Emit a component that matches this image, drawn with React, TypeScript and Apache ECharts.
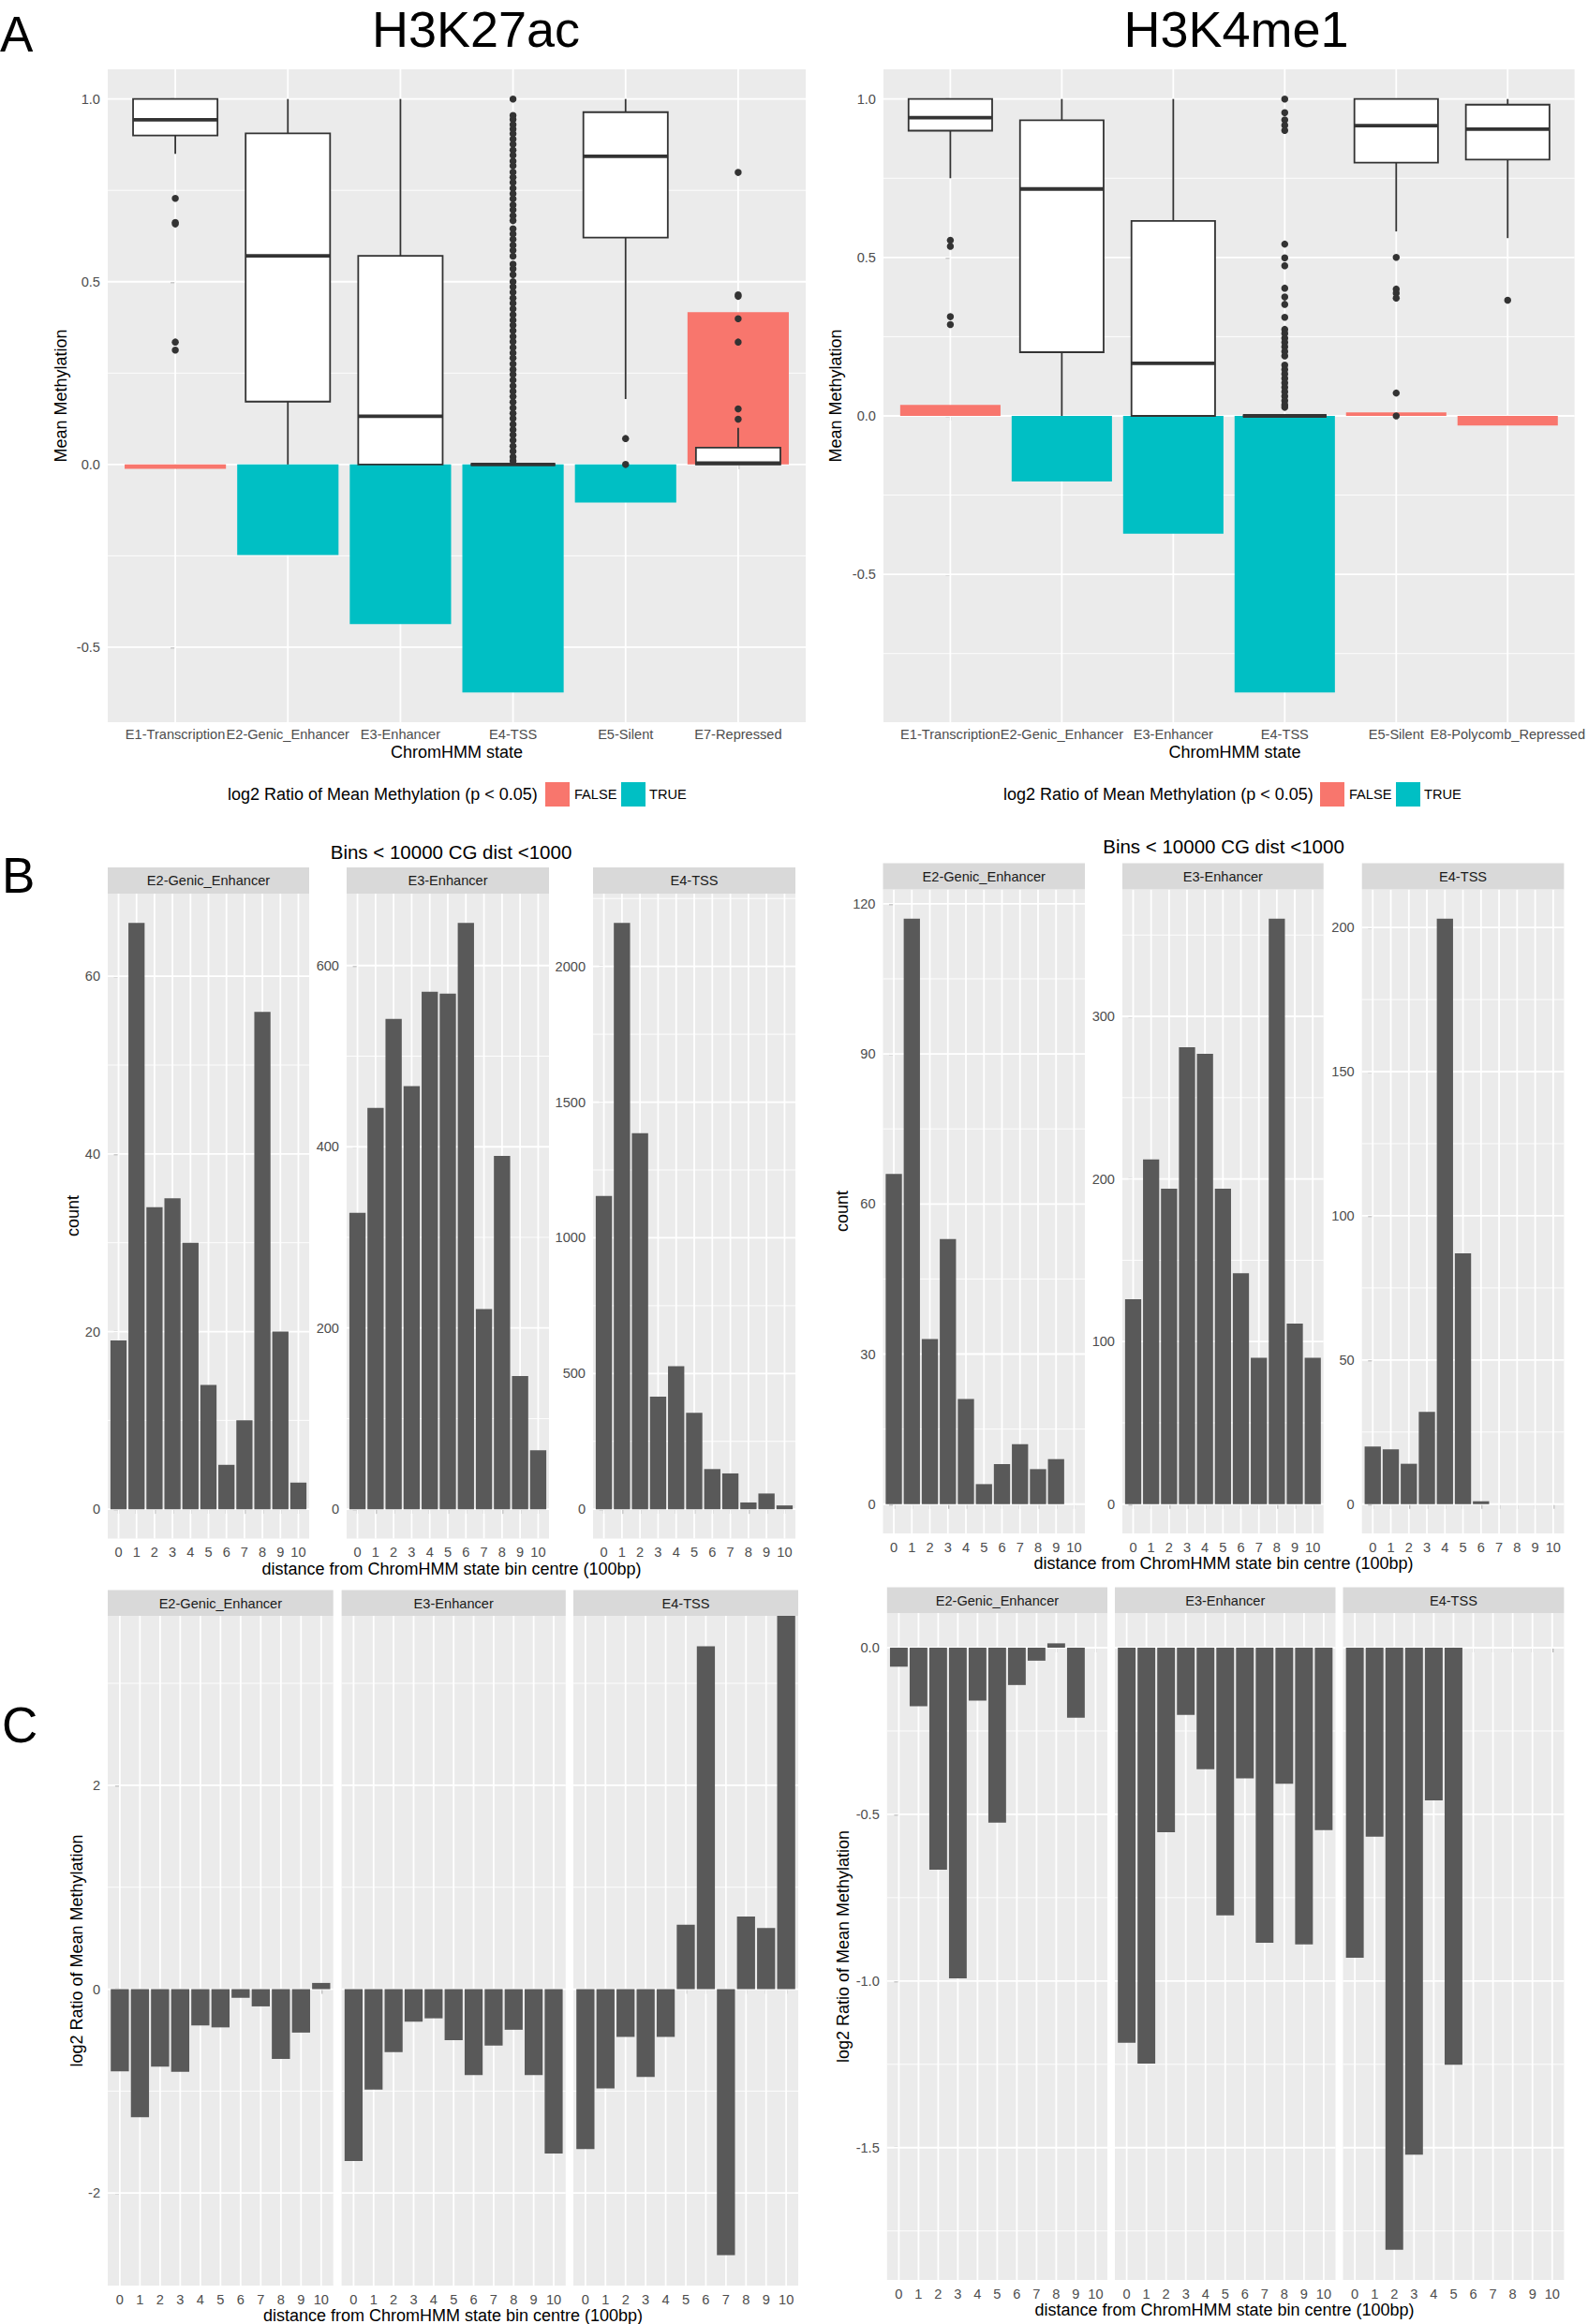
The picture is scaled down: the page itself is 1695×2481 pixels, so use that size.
import React, { useEffect, useRef } from "react";
import * as echarts from "echarts";

// ---------------- Panel A : ChromHMM states ----------------
const statesH3K27ac = ["E1-Transcription", "E2-Genic_Enhancer", "E3-Enhancer", "E4-TSS", "E5-Silent", "E7-Repressed"];
const statesH3K4me1 = ["E1-Transcription", "E2-Genic_Enhancer", "E3-Enhancer", "E4-TSS", "E5-Silent", "E8-Polycomb_Repressed"];

// log2 ratio of mean methylation (bars) and significance (p < 0.05)
const log2RatioH3K27ac = [-0.012, -0.248, -0.437, -0.624, -0.104, 0.417];
const significantH3K27ac = [false, true, true, true, true, false];
const log2RatioH3K4me1 = [0.035, -0.207, -0.372, -0.873, 0.011, -0.03];
const significantH3K4me1 = [false, true, true, true, false, false];

// box statistics: [lower whisker, Q1, median, Q3, upper whisker]
const boxH3K27ac = [
  [0.85, 0.9, 0.943, 1.0, 1.0],
  [0.0, 0.172, 0.571, 0.906, 1.0],
  [0.0, 0.0, 0.132, 0.571, 1.0],
  [0.0, 0.0, 0.0, 0.0, 0.0],
  [0.179, 0.621, 0.843, 0.964, 1.0],
  [0.0, 0.0, 0.004, 0.046, 0.1],
];
const outliersH3K27ac = [
  [0.728, 0.662, 0.658, 0.335, 0.313],
  [],
  [],
  [1.0, 0.955, 0.944, 0.93, 0.918, 0.905, 0.89, 0.876, 0.86, 0.846, 0.83, 0.817, 0.8, 0.786, 0.772, 0.756, 0.741, 0.727,
    0.71, 0.697, 0.681, 0.667, 0.645, 0.631, 0.616, 0.6, 0.586, 0.57, 0.548, 0.535, 0.519, 0.5, 0.486, 0.471, 0.455,
    0.441, 0.426, 0.41, 0.395, 0.381, 0.366, 0.35, 0.336, 0.32, 0.305, 0.291, 0.275, 0.26, 0.246, 0.231, 0.215, 0.2,
    0.186, 0.171, 0.155, 0.14, 0.126, 0.11, 0.095, 0.081, 0.066, 0.05, 0.036, 0.021, 0.01],
  [0.071, 0.0],
  [0.799, 0.464, 0.46, 0.399, 0.335, 0.152, 0.124],
];
const boxH3K4me1 = [
  [0.75, 0.9, 0.941, 1.0, 1.0],
  [0.0, 0.201, 0.716, 0.933, 1.0],
  [0.0, 0.0, 0.166, 0.615, 1.0],
  [0.0, 0.0, 0.0, 0.0, 0.0],
  [0.582, 0.799, 0.916, 1.0, 1.0],
  [0.561, 0.809, 0.905, 0.982, 1.0],
];
const outliersH3K4me1 = [
  [0.554, 0.535, 0.313, 0.288],
  [],
  [],
  [1.0, 0.957, 0.934, 0.917, 0.901, 0.542, 0.499, 0.474, 0.403, 0.375, 0.352, 0.311, 0.273, 0.26, 0.245, 0.232,
    0.218, 0.203, 0.189, 0.16, 0.146, 0.132, 0.118, 0.104, 0.09, 0.076, 0.062, 0.048, 0.035, 0.027],
  [0.5, 0.4, 0.387, 0.372, 0.072, 0.0],
  [0.365],
];
const yBreaksA = [-0.5, 0, 0.5, 1.0];

// ---------------- Panels B and C : distance bins ----------------
const facetNames = ["E2-Genic_Enhancer", "E3-Enhancer", "E4-TSS"];
const distanceTicks = [0, 1, 2, 3, 4, 5, 6, 7, 8, 9, 10];

const countH3K27acE2 = [19, 66, 34, 35, 30, 14, 5, 10, 56, 20, 3];
const countH3K27acE3 = [327, 443, 541, 467, 571, 569, 647, 221, 390, 147, 65];
const countH3K27acE4 = [1154, 2160, 1385, 415, 527, 355, 148, 132, 25, 58, 14];
const countH3K4me1E2 = [66, 117, 33, 53, 21, 4, 8, 12, 7, 9, null];
const countH3K4me1E3 = [126, 212, 194, 281, 277, 194, 142, 90, 360, 111, 90];
const countH3K4me1E4 = [20, 19, 14, 32, 203, 87, 1, null, null, null, null];
const yBreaksCountH3K27ac = [[0, 20, 40, 60], [0, 200, 400, 600], [0, 500, 1000, 1500, 2000]];
const yBreaksCountH3K4me1 = [[0, 30, 60, 90, 120], [0, 100, 200, 300], [0, 50, 100, 150, 200]];

// Infinity = ratio against zero (drawn to the panel edge, as ggplot does)
const ratioH3K27acE2 = [-0.806, -1.255, -0.759, -0.81, -0.356, -0.375, -0.084, -0.169, -0.684, -0.426, 0.061];
const ratioH3K27acE3 = [-1.686, -0.984, -0.618, -0.319, -0.286, -0.501, -0.843, -0.553, -0.398, -0.843, -1.611];
const ratioH3K27acE4 = [-1.569, -0.974, -0.468, -0.862, -0.468, 0.632, 3.363, -2.609, 0.712, 0.6, Infinity];
const ratioH3K4me1E2 = [-0.057, -0.176, -0.666, -0.992, -0.159, -0.525, -0.112, -0.039, 0.013, -0.21, null];
const ratioH3K4me1E3 = [-1.185, -1.248, -0.554, -0.202, -0.365, -0.803, -0.392, -0.885, -0.408, -0.89, -0.547];
const ratioH3K4me1E4 = [-0.93, -0.567, -1.806, -1.521, -0.458, -1.251, null, null, null, null, null];
const yBreaksRatioH3K27ac = [-2, 0, 2];
const yBreaksRatioH3K4me1 = [-1.5, -1.0, -0.5, 0.0];

// ---------------- styles ----------------
const FONT = "'Liberation Sans', Arial, sans-serif";
const BG = "#EBEBEB";
const GRID = "#FFFFFF";
const TICK = "#333333";
const TICKTXT = "#4D4D4D";
const STRIP = "#D9D9D9";
const BARGREY = "#595959";
const RED = "#F8766D";
const TEAL = "#00BFC4";
const BOXLINE = "#333333";

function expandRange(vals: any[]) {
  const f = vals.filter((v) => typeof v === "number" && Number.isFinite(v));
  const lo = Math.min(...f);
  const hi = Math.max(...f);
  const d = (hi - lo) * 0.05;
  return [lo - d, hi + d];
}

function minorOf(breaks: number[], lo: number, hi: number) {
  const step = breaks[1] - breaks[0];
  let start = breaks[0] - step / 2;
  while (start - step >= lo) start -= step;
  const out: number[] = [];
  for (let v = start; v <= hi + 1e-9; v += step) if (v >= lo - 1e-9) out.push(v);
  return out;
}

function buildOption() {
  const grid: any[] = [];
  const xAxis: any[] = [];
  const yAxis: any[] = [];
  const series: any[] = [];
  const graphic: any[] = [];

  const text = (t: string, x: number, y: number, o: any = {}) => {
    const align = o.align || "center";
    graphic.push({
      type: "text",
      x,
      y,
      rotation: o.rotation || 0,
      z: 10,
      silent: true,
      style: {
        text: t,
        fill: o.fill || "#000000",
        fontSize: o.size || 18,
        fontFamily: o.family || FONT,
        align,
        verticalAlign: "middle",
        textAlign: align,
        textVerticalAlign: "middle",
      },
    });
  };
  const rect = (x: number, y: number, w: number, h: number, fill: string) => {
    graphic.push({ type: "rect", z: 5, silent: true, shape: { x, y, width: w, height: h }, style: { fill } });
  };

  function addPanel(p: any) {
    const idx = grid.length;
    grid.push({
      left: p.left, top: p.top, width: p.width, height: p.height,
      show: true, backgroundColor: BG, borderWidth: 0, borderColor: "transparent",
    });
    const tickStyle = { color: TICK, width: 1.2 };
    const showY = p.showY !== false;
    xAxis.push({
      gridIndex: idx, type: "value", min: p.xMin, max: p.xMax, position: "bottom",
      axisLine: { show: false }, splitLine: { show: false },
      axisTick: { show: true, customValues: p.xBreaks, length: 5, lineStyle: tickStyle },
      axisLabel: {
        show: true, customValues: p.xBreaks, formatter: p.xFmt, color: TICKTXT,
        fontSize: 14.6, fontFamily: FONT, margin: p.xMargin,
      },
    });
    yAxis.push({
      gridIndex: idx, type: "value", min: p.yMin, max: p.yMax, position: "left",
      axisLine: { show: false }, splitLine: { show: false },
      axisTick: { show: showY, customValues: p.yBreaks, length: 5, lineStyle: tickStyle },
      axisLabel: {
        show: showY, customValues: p.yBreaks, formatter: p.yFmt, color: TICKTXT,
        fontSize: 14.6, fontFamily: FONT, margin: 8,
      },
    });
    const lines: any[] = [];
    minorOf(p.yBreaks, p.yMin, p.yMax).forEach((v) => lines.push({ h: true, v, w: 0.9 }));
    p.yBreaks.forEach((v: number) => lines.push({ h: true, v, w: 1.8 }));
    p.xBreaks.forEach((v: number) => lines.push({ h: false, v, w: 1.8 }));
    series.push({
      type: "custom", xAxisIndex: idx, yAxisIndex: idx, z: 1, silent: true,
      data: lines.map((l) => (l.h ? [p.xMin, l.v] : [l.v, p.yMin])),
      renderItem: (params: any, api: any) => {
        const l = lines[params.dataIndex];
        const a = l.h ? api.coord([p.xMin, l.v]) : api.coord([l.v, p.yMin]);
        const b = l.h ? api.coord([p.xMax, l.v]) : api.coord([l.v, p.yMax]);
        return { type: "line", shape: { x1: a[0], y1: a[1], x2: b[0], y2: b[1] }, style: { stroke: GRID, lineWidth: l.w } };
      },
    });
    return idx;
  }

  function addBars(idx: number, p: any, vals: any[], colors: string[]) {
    const data: any[] = [];
    const fills: string[] = [];
    vals.forEach((v, i) => {
      if (v === null || v === undefined || Number.isNaN(v)) return;
      data.push([i, Math.min(Math.max(v, p.yMin), p.yMax)]);
      fills.push(colors[i]);
    });
    series.push({
      type: "custom", xAxisIndex: idx, yAxisIndex: idx, z: 2, silent: true, data,
      renderItem: (params: any, api: any) => {
        const x = api.value(0);
        const v = api.value(1);
        const a = api.coord([x - 0.45, 0]);
        const b = api.coord([x + 0.45, v]);
        return {
          type: "rect",
          shape: { x: a[0], y: Math.min(a[1], b[1]), width: b[0] - a[0], height: Math.abs(b[1] - a[1]) },
          style: { fill: fills[params.dataIndex] },
        };
      },
    });
  }

  function addBoxes(idx: number, stats: number[][], outliers: number[][]) {
    series.push({
      type: "custom", xAxisIndex: idx, yAxisIndex: idx, z: 3, silent: true,
      data: stats.map((s, i) => [i, ...s]),
      encode: { x: 0, y: [1, 2, 3, 4, 5] },
      renderItem: (params: any, api: any) => {
        const x = api.value(0);
        const lo = api.value(1), q1 = api.value(2), med = api.value(3), q3 = api.value(4), hi = api.value(5);
        const hw = 0.375;
        const w1 = api.coord([x, lo]), w2 = api.coord([x, q1]), w3 = api.coord([x, q3]), w4 = api.coord([x, hi]);
        const tl = api.coord([x - hw, q3]), br = api.coord([x + hw, q1]);
        const m1 = api.coord([x - hw, med]), m2 = api.coord([x + hw, med]);
        const ls = { stroke: BOXLINE, lineWidth: 1.8 };
        return {
          type: "group",
          children: [
            { type: "line", shape: { x1: w1[0], y1: w1[1], x2: w2[0], y2: w2[1] }, style: ls },
            { type: "line", shape: { x1: w3[0], y1: w3[1], x2: w4[0], y2: w4[1] }, style: ls },
            { type: "rect", shape: { x: tl[0], y: tl[1], width: br[0] - tl[0], height: br[1] - tl[1] },
              style: { fill: "#FFFFFF", stroke: BOXLINE, lineWidth: 1.8 } },
            { type: "line", shape: { x1: m1[0], y1: m1[1], x2: m2[0], y2: m2[1] }, style: { stroke: BOXLINE, lineWidth: 3.8 } },
          ],
        };
      },
    });
    const pts: number[][] = [];
    outliers.forEach((arr, i) => arr.forEach((v) => pts.push([i, v])));
    series.push({
      type: "scatter", xAxisIndex: idx, yAxisIndex: idx, z: 4, silent: true,
      symbol: "circle", symbolSize: 7.5, itemStyle: { color: BOXLINE, opacity: 1 }, data: pts,
    });
  }

  const fmt1 = (v: number) => (Math.abs(v) < 1e-9 ? "0.0" : v.toFixed(1));
  const fmtInt = (v: number) => String(Math.round(v));

  // ---------- Panel A ----------
  const aPlots = [
    { left: 115, width: 745, states: statesH3K27ac, ratio: log2RatioH3K27ac, sig: significantH3K27ac,
      box: boxH3K27ac, out: outliersH3K27ac },
    { left: 943, width: 750, states: statesH3K4me1, ratio: log2RatioH3K4me1, sig: significantH3K4me1,
      box: boxH3K4me1, out: outliersH3K4me1 },
  ];
  aPlots.forEach((a) => {
    const [yMin, yMax] = expandRange([...a.ratio, ...a.box.flat(), ...a.out.flat()]);
    const p = {
      left: a.left, top: 74, width: a.width, height: 697,
      xMin: -0.6, xMax: a.states.length - 1 + 0.6, yMin, yMax,
      xBreaks: a.states.map((_, i) => i), xFmt: (v: number) => a.states[Math.round(v)] || "", xMargin: 5,
      yBreaks: yBreaksA, yFmt: fmt1,
    };
    const idx = addPanel(p);
    addBars(idx, p, a.ratio, a.sig.map((s) => (s ? TEAL : RED)));
    addBoxes(idx, a.box, a.out);
  });

  // ---------- Panel B (free y scales) ----------
  const bPlots = [
    { lefts: [115, 370, 633], widths: [215, 216, 216], top: 954, height: 688.5,
      data: [countH3K27acE2, countH3K27acE3, countH3K27acE4], breaks: yBreaksCountH3K27ac },
    { lefts: [942.5, 1198, 1453.7], widths: [215.5, 214.7, 215.7], top: 949.6, height: 687.4,
      data: [countH3K4me1E2, countH3K4me1E3, countH3K4me1E4], breaks: yBreaksCountH3K4me1 },
  ];
  bPlots.forEach((b) => {
    b.data.forEach((vals, k) => {
      const [yMin, yMax] = expandRange([0, ...vals]);
      const p = {
        left: b.lefts[k], top: b.top, width: b.widths[k], height: b.height,
        xMin: -0.6, xMax: 10.6, yMin, yMax,
        xBreaks: distanceTicks, xFmt: fmtInt, xMargin: 7,
        yBreaks: b.breaks[k], yFmt: fmtInt,
      };
      const idx = addPanel(p);
      addBars(idx, p, vals, vals.map(() => BARGREY));
      rect(b.lefts[k], b.top - 28, b.widths[k], 28, STRIP);
      text(facetNames[k], b.lefts[k] + b.widths[k] / 2, b.top - 14, { size: 14.6, fill: "#1A1A1A" });
    });
  });

  // ---------- Panel C (shared y scale) ----------
  const cPlots = [
    { lefts: [115, 364.6, 612], widths: [240.7, 239.2, 240], top: 1725, height: 715,
      data: [ratioH3K27acE2, ratioH3K27acE3, ratioH3K27acE4], breaks: yBreaksRatioH3K27ac, yFmt: fmtInt },
    { lefts: [946.8, 1190, 1433.5], widths: [235.2, 235.5, 235.9], top: 1722, height: 712,
      data: [ratioH3K4me1E2, ratioH3K4me1E3, ratioH3K4me1E4], breaks: yBreaksRatioH3K4me1, yFmt: fmt1 },
  ];
  cPlots.forEach((c) => {
    const [yMin, yMax] = expandRange([0, ...c.data.flat()]);
    c.data.forEach((vals, k) => {
      const p = {
        left: c.lefts[k], top: c.top, width: c.widths[k], height: c.height,
        xMin: -0.6, xMax: 10.6, yMin, yMax,
        xBreaks: distanceTicks, xFmt: fmtInt, xMargin: 7,
        yBreaks: c.breaks, yFmt: c.yFmt, showY: k === 0,
      };
      const idx = addPanel(p);
      addBars(idx, p, vals, vals.map(() => BARGREY));
      rect(c.lefts[k], c.top - 27.5, c.widths[k], 27.5, STRIP);
      text(facetNames[k], c.lefts[k] + c.widths[k] / 2, c.top - 13.5, { size: 14.6, fill: "#1A1A1A" });
    });
  });

  // ---------- titles, labels, legends ----------
  text("A", 0, 36, { size: 53, align: "left" });
  text("B", 2, 934, { size: 53, align: "left" });
  text("C", 2, 1841, { size: 53, align: "left" });
  text("H3K27ac", 508, 31, { size: 54 });
  text("H3K4me1", 1319.5, 31, { size: 54 });

  text("ChromHMM state", 487.5, 803);
  text("ChromHMM state", 1318, 803);
  text("Mean Methylation", 65, 422.5, { rotation: Math.PI / 2 });
  text("Mean Methylation", 892, 422.5, { rotation: Math.PI / 2 });

  text("Bins < 10000 CG dist <1000", 481.5, 909, { size: 20.5 });
  text("Bins < 10000 CG dist <1000", 1306, 903.5, { size: 20.5 });
  text("count", 78, 1298, { rotation: Math.PI / 2 });
  text("count", 899, 1293, { rotation: Math.PI / 2 });
  text("distance from ChromHMM state bin centre (100bp)", 482, 1675);
  text("distance from ChromHMM state bin centre (100bp)", 1306, 1669);

  text("log2 Ratio of Mean Methylation", 82, 2082.5, { rotation: Math.PI / 2 });
  text("log2 Ratio of Mean Methylation", 900, 2078, { rotation: Math.PI / 2 });
  text("distance from ChromHMM state bin centre (100bp)", 483.5, 2472);
  text("distance from ChromHMM state bin centre (100bp)", 1307, 2466);

  const legends = [
    { title: 243, red: 582, f: 613, teal: 663, t: 693 },
    { title: 1071, red: 1409, f: 1440, teal: 1490, t: 1520 },
  ];
  legends.forEach((l) => {
    text("log2 Ratio of Mean Methylation (p < 0.05)", l.title, 848, { align: "left" });
    rect(l.red, 835, 26, 26, RED);
    text("FALSE", l.f, 848, { align: "left", size: 14.6 });
    rect(l.teal, 835, 26, 26, TEAL);
    text("TRUE", l.t, 848, { align: "left", size: 14.6 });
  });

  return {
    animation: false,
    backgroundColor: "#FFFFFF",
    grid,
    xAxis,
    yAxis,
    series,
    graphic: { elements: graphic },
  };
}

export default function App() {
  const ref = useRef<HTMLDivElement>(null);
  useEffect(() => {
    if (!ref.current) return;
    const chart = echarts.init(ref.current, null, { renderer: "svg", width: 1695, height: 2481 });
    chart.setOption(buildOption() as any);
    return () => chart.dispose();
  }, []);
  return (
    <div
      ref={ref}
      style={{ position: "absolute", left: 0, top: 0, width: 1695, height: 2481, background: "#FFFFFF" }}
    />
  );
}
